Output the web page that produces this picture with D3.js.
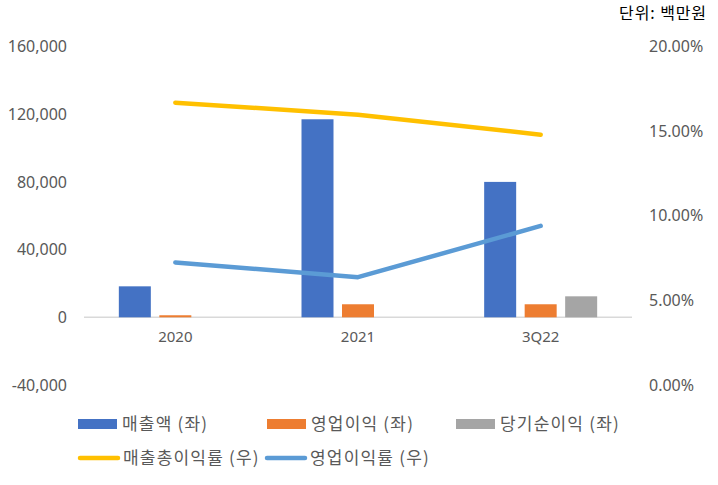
<!DOCTYPE html>
<html>
<head>
<meta charset="UTF-8" />
<title>실적 추이</title>
<script src="https://cdn.jsdelivr.net/npm/d3@7/dist/d3.min.js"></script>
<style>
    body { margin: 0; background: #fff; }
    svg text { font-family: 'Noto Sans', 'Noto Sans CJK KR', sans-serif; }
    .kr { font-family: 'Noto Sans CJK KR', sans-serif; }
</style>
</head>
<body>
<div id="chart"></div>
<script>
// data (단위: 백만원)
var categories = ["2020", "2021", "3Q22"];
var barSeries = ["매출액 (좌)", "영업이익 (좌)", "당기순이익 (좌)"];
var sales = [18300, 117000, 80000];
var opProfit = [1200, 7700, 7700];
var netProfit = [null, null, 12400];
var lineSeries = ["매출총이익률 (우)", "영업이익률 (우)"];
var grossMargin = [0.1668, 0.1597, 0.1479];
var opMargin = [0.0724, 0.0637, 0.0940];
var leftTicks = [-40000, 0, 40000, 80000, 120000, 160000];
var rightTicks = [0, 0.05, 0.10, 0.15, 0.20];

var barColors = ["#4472C4", "#ED7D31", "#A5A5A5"];
var lineColors = ["#FFC000", "#5B9BD5"];

var w = 718, h = 485;
var svg = d3.select("#chart").append("svg")
    .attr("width", w).attr("height", h);

var x = d3.scaleBand().domain(categories).range([84, 632]);
var yL = d3.scaleLinear().domain([-40000, 160000]).range([385, 46.5]);
var yR = d3.scaleLinear().domain([0, 0.20]).range([385, 46.5]);

var barW = 32, barStep = 40.5;
var xs = d3.scaleBand().domain(barSeries).range([-barStep * 1.5, barStep * 1.5]);

// plain hyphen for negatives, like excel
var loc = d3.formatLocale({decimal: ".", thousands: ",", grouping: [3], currency: ["", ""], minus: "-"});

// zero line
svg.append("line")
    .attr("x1", x.range()[0]).attr("x2", x.range()[1])
    .attr("y1", yL(0)).attr("y2", yL(0))
    .attr("stroke", "#d9d9d9").attr("stroke-width", 1.5);

// bars
var barData = [sales, opProfit, netProfit];
barData.forEach(function(vals, i) {
    svg.append("g").selectAll("rect")
        .data(vals.map(function(v, j) { return {c: categories[j], v: v}; })
            .filter(function(d) { return d.v != null; }))
        .enter().append("rect")
        .attr("x", function(d) {
            return x(d.c) + x.bandwidth() / 2 + xs(barSeries[i]) + (barStep - barW) / 2;
        })
        .attr("width", barW)
        .attr("y", function(d) { return yL(Math.max(0, d.v)); })
        .attr("height", function(d) { return Math.abs(yL(d.v) - yL(0)); })
        .attr("fill", barColors[i]);
});

// lines
var line = d3.line()
    .x(function(d, j) { return x(categories[j]) + x.bandwidth() / 2; })
    .y(function(d) { return yR(d); });

[grossMargin, opMargin].forEach(function(vals, i) {
    svg.append("path")
        .datum(vals)
        .attr("d", line)
        .attr("fill", "none")
        .attr("stroke", lineColors[i])
        .attr("stroke-width", 4.5)
        .attr("stroke-linecap", "round")
        .attr("stroke-linejoin", "round");
});

// left axis labels
var axL = d3.axisLeft(yL).tickValues(leftTicks).tickSize(0).tickPadding(0)
    .tickFormat(loc.format(","));
var gL = svg.append("g").attr("transform", "translate(67,0)").call(axL);
gL.select(".domain").remove();
gL.selectAll("text").attr("font-size", 16).attr("fill", "#595959")
    .attr("font-family", "'Noto Sans', sans-serif");

// right axis labels
var axR = d3.axisRight(yR).tickValues(rightTicks).tickSize(0).tickPadding(0)
    .tickFormat(loc.format(".2%"));
var gR = svg.append("g").attr("transform", "translate(649,0)").call(axR);
gR.select(".domain").remove();
gR.selectAll("text").attr("font-size", 16).attr("fill", "#595959")
    .attr("font-family", "'Noto Sans', sans-serif");

// category labels
var axX = d3.axisBottom(x).tickSize(0).tickPadding(0);
var gX = svg.append("g").attr("transform", "translate(0,331)").call(axX);
gX.select(".domain").remove();
gX.selectAll("text").attr("font-size", 15).attr("fill", "#595959")
    .attr("font-family", "'Noto Sans', sans-serif");

// unit
svg.append("text").attr("class", "kr")
    .attr("x", 707).attr("y", 19)
    .attr("text-anchor", "end")
    .attr("font-size", 16).attr("fill", "#000")
    .attr("letter-spacing", "0.9px")
    .text("단위: 백만원");

// legend
var legend = [
    {name: barSeries[0], color: barColors[0], type: "bar", x: 78, y: 424},
    {name: barSeries[1], color: barColors[1], type: "bar", x: 267, y: 424},
    {name: barSeries[2], color: barColors[2], type: "bar", x: 456, y: 424},
    {name: lineSeries[0], color: lineColors[0], type: "line", x: 78, y: 458},
    {name: lineSeries[1], color: lineColors[1], type: "line", x: 265, y: 458}
];
var lg = svg.append("g").selectAll("g").data(legend).enter().append("g")
    .attr("transform", function(d) { return "translate(" + d.x + "," + d.y + ")"; });
lg.filter(function(d) { return d.type == "bar"; }).append("rect")
    .attr("x", 0).attr("y", -5).attr("width", 39).attr("height", 10)
    .attr("fill", function(d) { return d.color; });
lg.filter(function(d) { return d.type == "line"; }).append("line")
    .attr("x1", 2).attr("x2", 40).attr("y1", 0).attr("y2", 0)
    .attr("stroke", function(d) { return d.color; })
    .attr("stroke-width", 4.5).attr("stroke-linecap", "round");
lg.append("text").attr("class", "kr")
    .attr("x", function(d) { return d.type == "bar" ? 44 : 45; })
    .attr("y", 0).attr("dy", "0.35em")
    .attr("font-size", 17).attr("fill", "#595959")
    .attr("letter-spacing", "1.2px")
    .text(function(d) { return d.name; });
</script>
</body>
</html>
